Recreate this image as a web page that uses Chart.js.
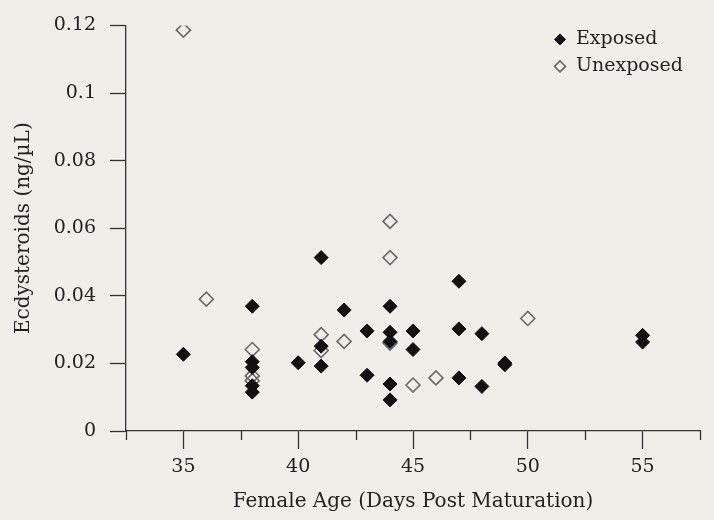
<!DOCTYPE html>
<html>
<head>
<meta charset="utf-8">
<script src="https://cdn.jsdelivr.net/npm/chart.js@4"></script>
<style>
  html, body { margin: 0; padding: 0; background: #f0eee8; }
  #wrap { width: 714px; height: 520px; }
</style>
</head>
<body>
<div id="wrap"><canvas id="chart" width="714" height="520"></canvas></div>
<script>
// ===== DATA =====

const exposedAge   = [35, 38, 38, 38, 38, 38, 40, 41, 41, 41, 42, 43, 43, 44, 44, 44, 44, 44, 45, 45, 47, 47, 47, 48, 48, 49, 49, 55, 55];
const exposedLevel = [0.0227, 0.0369, 0.0205, 0.0188, 0.0134, 0.0115, 0.0202, 0.0513, 0.0251, 0.0192, 0.0358, 0.0296, 0.0165,
                      0.0369, 0.0292, 0.0265, 0.0139, 0.0092, 0.0296, 0.0241, 0.0443, 0.0302, 0.0157, 0.0288, 0.0132,
                      0.0201, 0.0196, 0.0283, 0.0263];

const unexposedAge   = [35, 36, 38, 38, 38, 41, 41, 42, 44, 44, 44, 45, 46, 50];
const unexposedLevel = [0.1186, 0.039, 0.0241, 0.0163, 0.0149, 0.0285, 0.0238, 0.0265, 0.062, 0.0513, 0.026, 0.0136, 0.0157, 0.0333];

const seriesNames = ["Exposed", "Unexposed"];
const xMajorTicks = [35, 40, 45, 50, 55];

const FONT = "'DejaVu Serif', serif";
const INK = "#222";

function toPoints(xs, ys) {
    return xs.map((x, i) => ({ x: x, y: ys[i] }));
}

// ===== PLUGINS =====

// short minor ticks on the x axis (every 2.5 days, between the labelled ones)
const minorTicks = {
    id: "minorTicks",
    afterDraw(chart) {
        const xs = chart.scales.x;
        const ctx = chart.ctx;
        ctx.save();
        ctx.strokeStyle = "#333";
        ctx.lineWidth = 1.3;
        xs.ticks.forEach(t => {
            if (xMajorTicks.includes(t.value)) return;
            const px = Math.round(xs.getPixelForValue(t.value)) + 0.5;
            ctx.beginPath();
            ctx.moveTo(px, xs.top);
            ctx.lineTo(px, xs.top + 9);
            ctx.stroke();
        });
        ctx.restore();
    }
};

// legend in the top right corner, inside the plot
const diamondLegend = {
    id: "diamondLegend",
    afterDraw(chart) {
        const ctx = chart.ctx;
        const area = chart.chartArea;
        ctx.save();
        ctx.font = "19px " + FONT;
        ctx.textBaseline = "middle";
        chart.data.datasets.forEach((ds, i) => {
            const y = area.top + 14 + i * 27;
            const x = area.right - 140;
            ctx.fillStyle = ds.pointBackgroundColor;
            ctx.strokeStyle = ds.pointBorderColor;
            ctx.lineWidth = ds.pointBorderWidth;
            Chart.helpers.drawPoint(ctx, { pointStyle: "rectRot", radius: 5.5, borderWidth: ds.pointBorderWidth }, x, y);
            ctx.fillStyle = INK;
            ctx.fillText(ds.label, x + 16, y);
        });
        ctx.restore();
    }
};

// ===== CHART =====

new Chart(document.getElementById("chart"), {
    type: "scatter",
    data: {
        datasets: [
            {
                label: seriesNames[0],
                data: toPoints(exposedAge, exposedLevel),
                pointStyle: "rectRot",
                pointRadius: 7,
                pointBackgroundColor: "#111",
                pointBorderColor: "#111",
                pointBorderWidth: 1
            },
            {
                label: seriesNames[1],
                data: toPoints(unexposedAge, unexposedLevel),
                pointStyle: "rectRot",
                pointRadius: 7,
                pointBackgroundColor: "rgba(0,0,0,0)",
                pointBorderColor: "#6a6a6a",
                pointBorderWidth: 1.6
            }
        ]
    },
    options: {
        responsive: false,
        animation: false,
        layout: { padding: { top: 19, right: 14, left: 0, bottom: 0 } },
        plugins: {
            legend: { display: false },
            tooltip: { enabled: false }
        },
        scales: {
            x: {
                type: "linear",
                min: 32.5,
                max: 57.5,
                afterFit(scale) { scale.height = 89; },
                afterBuildTicks(scale) {
                    const t = [];
                    for (let v = 32.5; v <= 57.5; v += 2.5) t.push({ value: v });
                    scale.ticks = t;
                },
                ticks: {
                    autoSkip: false,
                    maxRotation: 0,
                    padding: 7,
                    color: INK,
                    font: { family: FONT, size: 19 },
                    callback: v => xMajorTicks.includes(v) ? String(v) : ""
                },
                grid: {
                    drawOnChartArea: false,
                    tickLength: 18,
                    tickWidth: 1.3,
                    tickColor: c => (c.tick && xMajorTicks.includes(c.tick.value)) ? "#333" : "rgba(0,0,0,0)"
                },
                border: { color: "#333", width: 1.3 },
                title: {
                    display: true,
                    text: "Female Age (Days Post Maturation)",
                    color: INK,
                    font: { family: FONT, size: 20 },
                    padding: { top: 0, bottom: 6 }
                }
            },
            y: {
                min: 0,
                max: 0.12,
                afterFit(scale) { scale.width = 126; },
                ticks: {
                    stepSize: 0.02,
                    padding: 14,
                    color: INK,
                    font: { family: FONT, size: 19 },
                    callback: v => String(Number(v.toFixed(2)))
                },
                grid: {
                    drawOnChartArea: false,
                    tickLength: 16,
                    tickWidth: 1.3,
                    tickColor: "#333"
                },
                border: { color: "#333", width: 1.3 },
                title: {
                    display: true,
                    text: "Ecdysteroids (ng/\u00b5L)",
                    color: INK,
                    font: { family: FONT, size: 20 },
                    padding: { top: 12, bottom: 0 }
                }
            }
        }
    },
    plugins: [minorTicks, diamondLegend]
});
</script>
</body>
</html>
